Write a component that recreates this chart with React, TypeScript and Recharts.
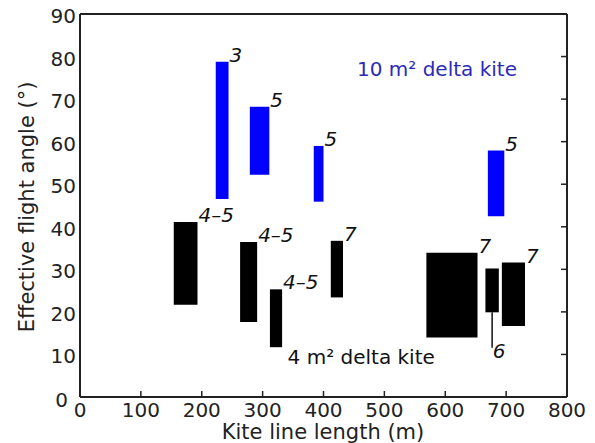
import React from 'react';
import { ComposedChart, XAxis, YAxis, ReferenceArea, ReferenceLine, Scatter } from 'recharts';

const xTicks = [0, 100, 200, 300, 400, 500, 600, 700, 800];
const yTicks = [0, 10, 20, 30, 40, 50, 60, 70, 80, 90];

// 10 m² delta kite ranges
const blueStart = [223, 279, 384, 670];
const blueEnd = [244, 311, 400, 697];
const blueLow = [46.5, 52.2, 45.9, 42.5];
const blueHigh = [78.8, 68.2, 59.0, 57.9];
const blueLabels = ['3', '5', '5', '5'];

// 4 m² delta kite ranges
const blackStart = [154, 263, 312, 412, 569, 666, 693];
const blackEnd = [193, 291, 332, 432, 653, 688, 731];
const blackLow = [21.7, 17.6, 11.7, 23.4, 14.0, 19.9, 16.7];
const blackHigh = [41.1, 36.4, 25.3, 36.7, 33.9, 30.2, 31.6];
const blackLabels = ['4–5', '4–5', '4–5', '7', '7', '', '7'];

const leaderX = [677, 677];
const leaderY = [19.9, 11.6];
const leaderLabel = { x: 678, y: 9.2, label: '6' };

const notes = [
  { x: 455, y: 75.4, text: '10 m² delta kite', color: '#2b2bb8' },
  { x: 341, y: 7.8, text: '4 m² delta kite', color: '#111111' },
];

const FONT = 'DejaVu Sans';
const INK = '#222222';
const TICK_LEN = 6;

const labelData = [
  ...blueLabels.map((l, i) => ({ x: blueEnd[i], y: blueHigh[i], label: l })),
  ...blackLabels.map((l, i) => ({ x: blackEnd[i], y: blackHigh[i], label: l })).filter((d) => d.label !== ''),
];

const BarLabelShape = (p: any) => (
  <text x={p.cx + 1} y={p.cy} fontFamily={FONT} fontStyle="italic" fontSize={20} fill="#111">
    {p.payload.label}
  </text>
);

const LeaderLabelShape = (p: any) => (
  <text x={p.cx} y={p.cy} fontFamily={FONT} fontStyle="italic" fontSize={20} fill="#111">
    {p.payload.label}
  </text>
);

const NoteShape = (p: any) => (
  <text x={p.cx} y={p.cy} fontFamily={FONT} fontSize={20} fill={p.payload.color}>
    {p.payload.text}
  </text>
);

const BottomTick = (p: any) => (
  <g>
    <line x1={p.x} x2={p.x} y1={p.y} y2={p.y - TICK_LEN} stroke={INK} strokeWidth={1.5} />
    <text x={p.x} y={p.y + 19.5} textAnchor="middle" fontFamily={FONT} fontSize={20} fill={INK}>
      {p.payload.value}
    </text>
  </g>
);

const TopTick = (p: any) => (
  <line x1={p.x} x2={p.x} y1={p.y} y2={p.y + TICK_LEN} stroke={INK} strokeWidth={1.5} />
);

const RightTick = (p: any) => (
  <line x1={p.x} x2={p.x - TICK_LEN} y1={p.y} y2={p.y} stroke={INK} strokeWidth={1.5} />
);

const YTick = (p: any) => {
  const zero = p.payload.value === 0;
  return (
    <text
      x={zero ? p.x - 8 : p.x}
      y={zero ? p.y + 10 : p.y + 9}
      textAnchor="end"
      fontFamily={FONT}
      fontSize={20}
      fill={INK}
    >
      {p.payload.value}
    </text>
  );
};

export default function App() {
  return (
    <div style={{ position: 'absolute', left: 0, top: 0, width: 595, height: 443, background: '#fff' }}>
      <ComposedChart width={595} height={443} margin={{ top: 13, right: 27, bottom: 0, left: 0 }}>
        <XAxis
          xAxisId={0}
          dataKey="x"
          type="number"
          domain={[0, 800]}
          ticks={xTicks}
          interval={0}
          allowDataOverflow
          height={46}
          axisLine={{ stroke: INK, strokeWidth: 2 }}
          tickLine={false}
          tickSize={0}
          tickMargin={0}
          tick={<BottomTick />}
          label={{
            content: () => (
              <text x={323} y={439} textAnchor="middle" fontFamily={FONT} fontSize={21} fill={INK}>
                Kite line length (m)
              </text>
            ),
          }}
        />
        <XAxis
          xAxisId="top"
          orientation="top"
          type="number"
          domain={[0, 800]}
          ticks={xTicks}
          interval={0}
          allowDataOverflow
          height={1}
          axisLine={{ stroke: INK, strokeWidth: 2 }}
          tickLine={false}
          tickSize={0}
          tickMargin={0}
          tick={<TopTick />}
        />
        <YAxis
          yAxisId={0}
          dataKey="y"
          type="number"
          domain={[0, 90]}
          ticks={yTicks}
          interval={0}
          allowDataOverflow
          width={80}
          axisLine={{ stroke: INK, strokeWidth: 2 }}
          tickLine={false}
          tickSize={0}
          tickMargin={4}
          tick={<YTick />}
          label={{
            content: () => (
              <text
                x={34}
                y={207}
                transform="rotate(-90, 34, 207)"
                textAnchor="middle"
                fontFamily={FONT}
                fontSize={21}
                fill={INK}
              >
                Effective flight angle (°)
              </text>
            ),
          }}
        />
        <YAxis
          yAxisId="right"
          orientation="right"
          type="number"
          domain={[0, 90]}
          ticks={yTicks}
          interval={0}
          allowDataOverflow
          width={1}
          axisLine={{ stroke: INK, strokeWidth: 2 }}
          tickLine={false}
          tickSize={0}
          tickMargin={0}
          tick={<RightTick />}
        />
        {blueStart.map((s, i) => (
          <ReferenceArea
            key={'b' + i}
            xAxisId={0}
            yAxisId={0}
            x1={s}
            x2={blueEnd[i]}
            y1={blueLow[i]}
            y2={blueHigh[i]}
            fill="#0000ff"
            fillOpacity={1}
            stroke="none"
          />
        ))}
        {blackStart.map((s, i) => (
          <ReferenceArea
            key={'k' + i}
            xAxisId={0}
            yAxisId={0}
            x1={s}
            x2={blackEnd[i]}
            y1={blackLow[i]}
            y2={blackHigh[i]}
            fill="#000000"
            fillOpacity={1}
            stroke="none"
          />
        ))}
        <ReferenceLine
          xAxisId={0}
          yAxisId={0}
          segment={[
            { x: leaderX[0], y: leaderY[0] },
            { x: leaderX[1], y: leaderY[1] },
          ]}
          stroke="#111"
          strokeWidth={1.5}
        />
        <Scatter data={labelData} dataKey="y" xAxisId={0} yAxisId={0} shape={BarLabelShape} isAnimationActive={false} />
        <Scatter data={[leaderLabel]} dataKey="y" xAxisId={0} yAxisId={0} shape={LeaderLabelShape} isAnimationActive={false} />
        <Scatter data={notes} dataKey="y" xAxisId={0} yAxisId={0} shape={NoteShape} isAnimationActive={false} />
      </ComposedChart>
    </div>
  );
}
